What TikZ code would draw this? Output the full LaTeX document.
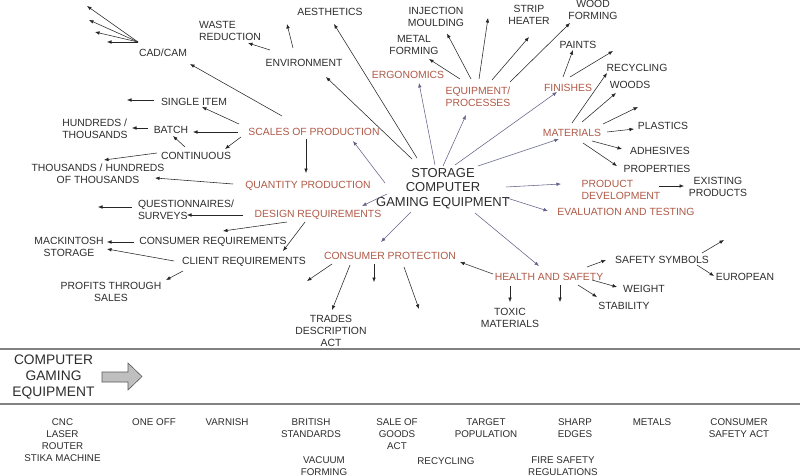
\documentclass[tikz,border=0pt]{standalone}
\usepackage{fontspec}
\setmainfont{Liberation Sans}
\usetikzlibrary{arrows.meta,calc}
\definecolor{redtxt}{RGB}{176,90,72}
\definecolor{darktxt}{RGB}{45,45,45}
\definecolor{purparr}{RGB}{98,98,138}
\definecolor{sepgray}{RGB}{130,130,130}
\tikzset{
  lbl/.style={inner sep=0pt,text=darktxt,font=\fontsize{10.4}{12}\selectfont,align=center},
  rlbl/.style={lbl,text=redtxt},
  blbl/.style={inner sep=0pt,text=darktxt,font=\fontsize{9.8}{11.8}\selectfont,align=center},
  arrB/.style={draw=black!85,line width=0.55pt,-{Latex[length=4.5pt,width=3.6pt]}},
  arrP/.style={draw=purparr,line width=0.55pt,-{Latex[length=4.5pt,width=3.6pt]}},
}
\begin{document}
\begin{tikzpicture}[x=1pt,y=-1pt]
\fill[white] (0,0) rectangle (800,476);
\useasboundingbox (0,0) rectangle (800,476);

% ---------- main nodes ----------
\node[lbl,font=\fontsize{13}{14.5}\selectfont] (ctr) at (443,188.5) {STORAGE\\COMPUTER\\GAMING EQUIPMENT};

\node[lbl] (cadcam) at (163,53) {CAD/CAM};
\node[lbl,align=left] (waste) at (230,31) {WASTE\\REDUCTION};
\node[lbl] (env) at (304,63) {ENVIRONMENT};
\node[lbl] (aest) at (330,12) {AESTHETICS};
\node[rlbl] (ergo) at (408,75) {ERGONOMICS};
\node[lbl] (metal) at (414,45) {METAL\\FORMING};
\node[lbl] (inj) at (436,16.5) {INJECTION\\MOULDING};
\node[lbl] (strip) at (529,15) {STRIP\\HEATER};
\node[lbl] (wood) at (593,10) {WOOD\\FORMING};
\node[rlbl,align=left] (equip) at (478,97) {EQUIPMENT/\\PROCESSES};
\node[rlbl] (fin) at (568,88) {FINISHES};
\node[lbl] (paints) at (578,45) {PAINTS};
\node[lbl] (recyc) at (637,68) {RECYCLING};
\node[lbl] (woods) at (630,85) {WOODS};
\node[rlbl] (mat) at (572,133) {MATERIALS};
\node[lbl] (plast) at (663,126) {PLASTICS};
\node[lbl] (adh) at (660,151) {ADHESIVES};
\node[lbl] (prop) at (657,169) {PROPERTIES};
\node[rlbl,align=left] (proddev) at (621,189.5) {PRODUCT\\DEVELOPMENT};
\node[lbl] (exist) at (718,186.5) {EXISTING\\PRODUCTS};
\node[rlbl] (eval) at (626,212) {EVALUATION AND TESTING};
\node[rlbl] (hs) at (549,277) {HEALTH AND SAFETY};
\node[lbl] (toxic) at (510,318) {TOXIC\\MATERIALS};
\node[lbl] (stab) at (624,306) {STABILITY};
\node[lbl] (weight) at (644,289) {WEIGHT};
\node[lbl] (symb) at (662,260) {SAFETY SYMBOLS};
\node[lbl] (euro) at (745,277) {EUROPEAN};
\node[rlbl] (cp) at (390,256) {CONSUMER PROTECTION};
\node[lbl] (trades) at (331,331) {TRADES\\DESCRIPTION\\ACT};
\node[rlbl] (scales) at (314,132) {SCALES OF PRODUCTION};
\node[rlbl] (qty) at (308,186) {QUANTITY PRODUCTION};
\node[rlbl] (design) at (318,215) {DESIGN REQUIREMENTS};
\node[lbl] (single) at (194,102) {SINGLE ITEM};
\node[lbl] (batch) at (171,130) {BATCH};
\node[lbl,align=left] (hund) at (95,129) {HUNDREDS /\\THOUSANDS};
\node[lbl] (cont) at (196,156) {CONTINUOUS};
\node[lbl] (thou) at (98,174) {THOUSANDS / HUNDREDS\\OF THOUSANDS};
\node[lbl,align=left] (quest) at (186,210) {QUESTIONNAIRES/\\SURVEYS};
\node[lbl] (consreq) at (213,242) {CONSUMER REQUIREMENTS};
\node[lbl] (client) at (244,262) {CLIENT REQUIREMENTS};
\node[lbl] (mack) at (69,247) {MACKINTOSH\\STORAGE};
\node[lbl] (profits) at (111,292) {PROFITS THROUGH\\SALES};

% ---------- free ends ----------
\coordinate (fA1) at (87,6);
\coordinate (fA2) at (89,20);
\coordinate (fA3) at (95,32);
\coordinate (fA4) at (107,42);
\coordinate (fEnv) at (287,24);
\coordinate (fEq) at (488,18);
\coordinate (fFin) at (613,51);
\coordinate (fMat) at (638,107);
\coordinate (fHS) at (560,302);
\coordinate (fSym) at (724,240);
\coordinate (fCP1) at (307,281);
\coordinate (fCP2) at (374,282);
\coordinate (fCP3) at (419,309);
\coordinate (fSingle) at (127,100);
\coordinate (fQuest) at (98,207);

% ---------- black connectors ----------
\foreach \f in {fA1,fA2,fA3,fA4}
  \draw[arrB] ($(cadcam)+(-25,-11)$) -- (\f);
\draw[arrB] ($(env)+(-34,-13)$) -- ($(waste)+(18,12)$);
\draw[arrB] ($(env)+(-11,-15)$) -- (fEnv);
\draw[arrB] ($(ctr)+(-26,-30.5)$) -- ($(aest)+(4,12)$);
\draw[arrB] ($(ctr)+(-31,-29.5)$) -- ($(env)+(22,14)$);
\draw[arrB] ($(scales)+(-32,-16)$) -- ($(cadcam)+(27,11)$);
\draw[arrB] ($(equip)+(-18,-18)$) -- ($(metal)+(15,14)$);
\draw[arrB] ($(equip)+(-7,-18)$) -- ($(inj)+(11,17)$);
\draw[arrB] ($(equip)+(1,-18)$) -- (fEq);
\draw[arrB] ($(equip)+(14,-17)$) -- ($(strip)+(0,22)$);
\draw[arrB] ($(equip)+(32,-15)$) -- ($(wood)+(-23,13)$);
\draw[arrB] ($(fin)+(-5,-11)$) -- ($(paints)+(-5,5)$);
\draw[arrB] ($(fin)+(2,-11)$) -- (fFin);
\draw[arrB] ($(mat)+(0,-10)$) -- ($(recyc)+(-30,5)$);
\draw[arrB] ($(mat)+(10,-11)$) -- ($(woods)+(-14,8)$);
\draw[arrB] ($(mat)+(31,-9)$) -- (fMat);
\draw[arrB] ($(mat)+(35,-1)$) -- ($(plast)+(-29,3)$);
\draw[arrB] ($(mat)+(20,8)$) -- ($(adh)+(-38,-2)$);
\draw[arrB] ($(mat)+(11,10)$) -- ($(prop)+(-40,-3)$);
\draw[arrB] ($(proddev)+(38,-3.5)$) -- ($(exist)+(-34,-0.5)$);
\draw[arrB] ($(hs)+(-56,-3)$) -- ($(cp)+(70,6)$);
\draw[arrB] ($(hs)+(-39,9)$) -- ($(toxic)+(0,-16)$);
\draw[arrB] ($(hs)+(11,8)$) -- (fHS);
\draw[arrB] ($(hs)+(29,8)$) -- ($(stab)+(-27,-9)$);
\draw[arrB] ($(hs)+(43,3)$) -- ($(weight)+(-27,-2)$);
\draw[arrB] ($(hs)+(38,-10)$) -- ($(symb)+(-56,0)$);
\draw[arrB] ($(symb)+(40,-7)$) -- (fSym);
\draw[arrB] ($(symb)+(35,5)$) -- ($(euro)+(-31,-1)$);
\draw[arrB] ($(cp)+(-58,8)$) -- (fCP1);
\draw[arrB] ($(cp)+(-40,9)$) -- ($(trades)+(1,-21)$);
\draw[arrB] ($(cp)+(-16,8)$) -- (fCP2);
\draw[arrB] ($(cp)+(14,11)$) -- (fCP3);
\draw[arrB] ($(scales)+(-8,7)$) -- ($(qty)+(-2,-13)$);
\draw[arrB] ($(scales)+(-76,0)$) -- ($(batch)+(22,2)$);
\draw[arrB] ($(scales)+(-75,-8)$) -- ($(single)+(8,5)$);
\draw[arrB] ($(single)+(-40,-2)$) -- (fSingle);
\draw[arrB] ($(batch)+(-23,-2)$) -- ($(hund)+(37,-1)$);
\draw[arrB] ($(scales)+(-73,5)$) -- ($(cont)+(29,-7)$);
\draw[arrB] ($(cont)+(-11,-9)$) -- ($(batch)+(2,6)$);
\draw[arrB] ($(cont)+(-39,-3)$) -- ($(thou)+(6,-14)$);
\draw[arrB] ($(qty)+(-75,-2)$) -- ($(thou)+(57,4)$);
\draw[arrB] ($(design)+(-75,0)$) -- ($(quest)+(1,5)$);
\draw[arrB] ($(quest)+(-54,-3)$) -- (fQuest);
\draw[arrB] ($(design)+(-31,7)$) -- ($(consreq)+(10,-11)$);
\draw[arrB] ($(design)+(-13,7)$) -- ($(client)+(39,-11)$);
\draw[arrB] ($(consreq)+(-79,0)$) -- ($(mack)+(38,-5)$);
\draw[arrB] ($(client)+(-70,-1)$) -- ($(mack)+(38,2)$);
\draw[arrB] ($(client)+(-61,9)$) -- ($(profits)+(55,-12)$);

% ---------- purple connectors from centre ----------
\draw[arrP] ($(ctr)+(-8,-23.5)$) -- ($(ergo)+(11,8)$);
\draw[arrP] ($(ctr)+(0,-22.5)$) -- ($(equip)+(-12,18)$);
\draw[arrP] ($(ctr)+(12,-23.5)$) -- ($(fin)+(-11,4)$);
\draw[arrP] ($(ctr)+(35,-22.5)$) -- ($(mat)+(-13,6)$);
\draw[arrP] ($(ctr)+(63,-1.5)$) -- ($(proddev)+(-60,-5.5)$);
\draw[arrP] ($(ctr)+(64,9.5)$) -- ($(eval)+(-78,-1)$);
\draw[arrP] ($(ctr)+(32,24.5)$) -- ($(hs)+(-10,-11)$);
\draw[arrP] ($(ctr)+(-32,23.5)$) -- ($(cp)+(-9,-14)$);
\draw[arrP] ($(ctr)+(-58,-5.5)$) -- ($(scales)+(39,9)$);
\draw[arrP] ($(ctr)+(-56,5.5)$) -- ($(design)+(44,-9)$);

% ---------- lower band ----------
\draw[sepgray,line width=1.3pt] (0,349) -- (800,349);
\draw[sepgray,line width=1.3pt] (0,404) -- (800,404);
\node[lbl,font=\fontsize{13.8}{16}\selectfont] (cge) at (53.5,377) {COMPUTER\\GAMING\\EQUIPMENT};
\draw[fill=black!25,draw=black!65,line width=0.6pt]
  (102,372) -- (128,372) -- (128,363) -- (142,376.5) -- (128,390) -- (128,382) -- (102,382) -- cycle;

\node[blbl] (cnc) at (62.5,440) {CNC\\LASER\\ROUTER\\STIKA MACHINE};
\node[blbl] (oneoff) at (154,422) {ONE OFF};
\node[blbl] (varnish) at (227,422) {VARNISH};
\node[blbl] (brit) at (311,428) {BRITISH\\STANDARDS};
\node[blbl] (vac) at (324,466) {VACUUM\\FORMING};
\node[blbl] (sale) at (397,434) {SALE OF\\GOODS\\ACT};
\node[blbl] (target) at (486,428) {TARGET\\POPULATION};
\node[blbl] (recyc2) at (446,461) {RECYCLING};
\node[blbl] (sharp) at (575,428) {SHARP\\EDGES};
\node[blbl] (fire) at (563,466) {FIRE SAFETY\\REGULATIONS};
\node[blbl] (metals) at (652,422) {METALS};
\node[blbl] (csa) at (739,428) {CONSUMER\\SAFETY ACT};
\end{tikzpicture}
\end{document}
